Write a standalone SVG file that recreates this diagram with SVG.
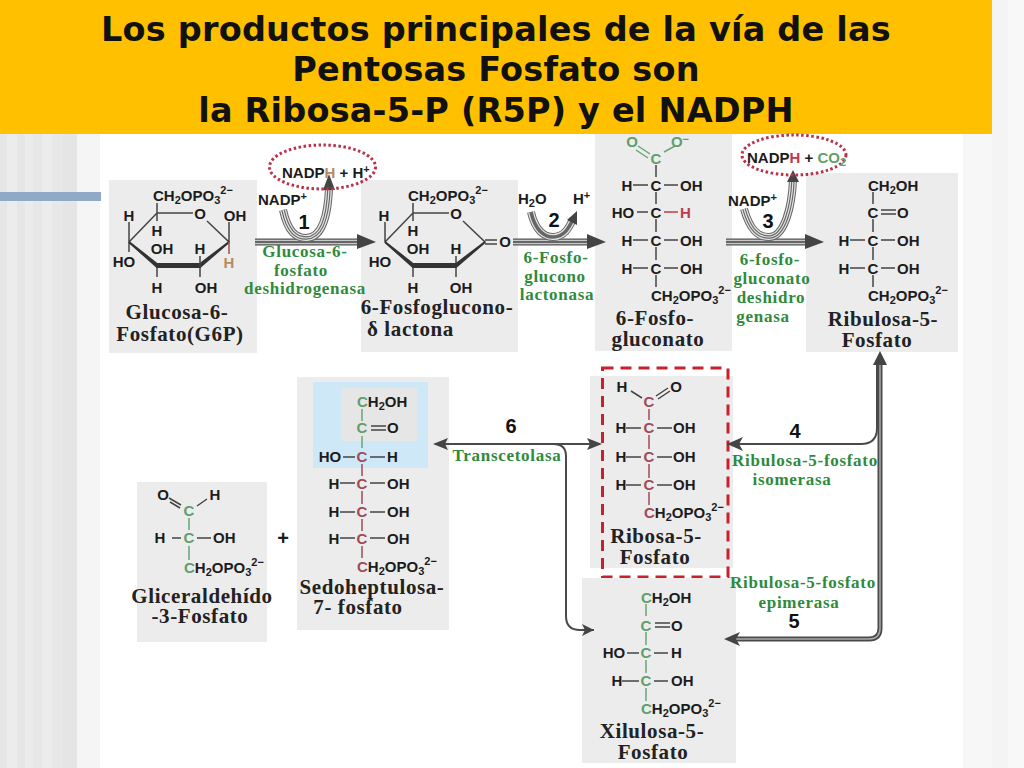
<svg xmlns="http://www.w3.org/2000/svg" width="1024" height="768" viewBox="0 0 1024 768">
<style>
.t{font:bold 33.5px "DejaVu Sans",Verdana,sans-serif;fill:#111;text-anchor:middle;letter-spacing:.2px}
.c{font:bold 15px "Liberation Sans",Arial,sans-serif;fill:#1c1c1c}
.m{text-anchor:middle}
.s{font-size:11px}
.n{font:bold 21px "Liberation Serif","Times New Roman",serif;fill:#222;text-anchor:middle;letter-spacing:.6px}
.e{font:bold 17px "Liberation Serif","Times New Roman",serif;fill:#2f8a3c;text-anchor:middle;letter-spacing:.7px}
.d{font:bold 20px "Liberation Sans",Arial,sans-serif;fill:#111;text-anchor:middle}
.box{fill:#ececec}
.b{stroke:#444;stroke-width:1.5;fill:none}
.g{fill:#5f9f6c}.r{fill:#a04a58}.rb{fill:#c03a4a}.br{fill:#b98a62}
.gb{stroke:#6aa576;stroke-width:1.5;fill:none}
.rl{stroke:#a04a58;stroke-width:1.5;fill:none}
.a1{fill:none;stroke:#555;stroke-width:7}
.a2{fill:none;stroke:#c8c8c8;stroke-width:4.5}
.a3{fill:none;stroke:#666;stroke-width:2}
.u1{fill:none;stroke:#666;stroke-width:8}
.u2{fill:none;stroke:#e4e4e4;stroke-width:6}
.u3{fill:none;stroke:#666;stroke-width:3.5}
.u4{fill:none;stroke:#e4e4e4;stroke-width:1.2}
.l{fill:none;stroke:#4a4a4a;stroke-width:2}
.l2{fill:none;stroke:#4a4a4a;stroke-width:5}
.l3{fill:none;stroke:#aaa;stroke-width:1.5}
.o{fill:none;stroke:#b8324a;stroke-width:3;stroke-dasharray:2.5 2.5}
</style>
<defs>
<marker id="h" markerUnits="userSpaceOnUse" markerWidth="18" markerHeight="14" refX="16" refY="7" orient="auto"><path d="M0 0L16 7L0 14L4 7Z" fill="#444"/></marker>
<marker id="hs" markerUnits="userSpaceOnUse" markerWidth="14" markerHeight="12" refX="12" refY="6" orient="auto"><path d="M0 0L12 6L0 12L3 6Z" fill="#444"/></marker>
</defs>
<g id="background">
<rect width="1024" height="768" fill="#fff"/>
<rect x="0" y="134" width="7" height="634" fill="#e6e6e6"/><rect x="7" y="134" width="10" height="634" fill="#ececec"/><rect x="17" y="134" width="8" height="634" fill="#e6e6e6"/><rect x="25" y="134" width="8" height="634" fill="#ebebeb"/><rect x="33" y="134" width="9" height="634" fill="#e7e7e7"/><rect x="42" y="134" width="10" height="634" fill="#ececec"/><rect x="52" y="134" width="11" height="634" fill="#e8e8e8"/><rect x="63" y="134" width="14" height="634" fill="#e5e5e5"/><rect x="77" y="134" width="23" height="634" fill="#f5f5f5"/>
<rect x="963" y="0" width="61" height="768" fill="#f7f7f7"/><rect x="992" y="0" width="16" height="768" fill="#f4f4f4"/><rect x="1008" y="0" width="16" height="768" fill="#f8f8f8"/>
<rect x="0" y="192" width="101" height="9" fill="#8fa9c6"/>
<rect x="0" y="0" width="992" height="134" fill="#ffc000"/>
</g>
<g id="title">
<text class="t" x="496" y="41">Los productos principales de la vía de las</text>
<text class="t" x="496" y="81">Pentosas Fosfato son</text>
<text class="t" x="496" y="122">la Ribosa-5-P (R5P) y el NADPH</text>
</g>
<g id="node-g6p">
<rect class="box" x="109" y="180" width="148" height="173"/>
<path class="b" d="M157 213L193 213M207 221L229 242L211 257M129 242L157 213M129 242L146 257M157 213V203M129 242V222M229 242V222M157 267V277M200 267V277M129 242L129 252"/>
<path d="M129 242L157 267H200L229 242L200 264H157Z" fill="#333" stroke="#333" stroke-width="2"/>
<path d="M157 213V221M200 267V256" class="b"/>
<path d="M229 242V254" stroke="#a0504a" stroke-width="1.5"/>
<text class="c" x="153" y="201">CH<tspan class="s" dy="3">2</tspan><tspan dy="-3">OPO</tspan><tspan class="s" dy="3">3</tspan><tspan class="s" dy="-10">2−</tspan></text>
<text class="c m" x="200" y="219">O</text><text class="c m" x="235" y="221">OH</text>
<text class="c m" x="129" y="221">H</text><text class="c m" x="157" y="236">H</text>
<text class="c m" x="162" y="254">OH</text><text class="c m" x="200" y="254">H</text>
<text class="c m" x="124" y="267">HO</text><text class="c m br" x="229" y="268">H</text>
<text class="c m" x="157" y="293">H</text><text class="c m" x="206" y="293">OH</text>
<text class="n" x="177" y="319">Glucosa-6-</text><text class="n" x="180" y="341">Fosfato(G6P)</text>
</g>
<g id="node-6pgl">
<rect class="box" x="361" y="180" width="157" height="172"/>
<path class="b" d="M413 213L449 213M463 221L485 242L467 257M385 242L413 213M385 242L402 257M413 213V203M385 242V222M413 267V277M456 267V277M413 213V221M456 267V256M485 240H497M485 244H497"/>
<path d="M385 242L413 267H456L485 242L456 264H413Z" fill="#333" stroke="#333" stroke-width="2"/>
<text class="c" x="408" y="201">CH<tspan class="s" dy="3">2</tspan><tspan dy="-3">OPO</tspan><tspan class="s" dy="3">3</tspan><tspan class="s" dy="-10">2−</tspan></text>
<text class="c m" x="456" y="219">O</text><text class="c m" x="505" y="247">O</text>
<text class="c m" x="384" y="221">H</text><text class="c m" x="413" y="236">H</text>
<text class="c m" x="418" y="254">OH</text><text class="c m" x="456" y="254">H</text>
<text class="c m" x="380" y="267">HO</text>
<text class="c m" x="413" y="293">H</text><text class="c m" x="461" y="293">OH</text>
<text class="n" x="437" y="314">6-Fosfoglucono-</text><text class="n" x="367" y="336" style="text-anchor:start">δ lactona</text>
</g>
<g id="node-6pg">
<rect class="box" x="595" y="134" width="137" height="217"/>
<path class="gb" d="M638 146L650 154M636 150L648 158M664 152L675 146"/>
<path class="b" d="M656 165V177M656 192V204M656 219V232M656 247V260M656 275V287M633 185H648M664 185H678M637 212H648M633 240H648M664 240H678M633 268H648M664 268H678"/>
<path d="M664 212H678" stroke="#c03a4a" stroke-width="1.5"/>
<text class="c m g" x="632" y="147">O</text><text class="c m g" x="680" y="147">O<tspan class="s" dy="-4">−</tspan></text><text class="c m g" x="656" y="164">C</text>
<text class="c m" x="627" y="191">H</text><text class="c m" x="656" y="191">C</text><text class="c" x="680" y="191">OH</text>
<text class="c m" x="623" y="218">HO</text><text class="c m" x="656" y="218">C</text><text class="c rb" x="680" y="218">H</text>
<text class="c m" x="627" y="246">H</text><text class="c m" x="656" y="246">C</text><text class="c" x="680" y="246">OH</text>
<text class="c m" x="627" y="274">H</text><text class="c m" x="656" y="274">C</text><text class="c" x="680" y="274">OH</text>
<text class="c" x="651" y="301">CH<tspan class="s" dy="3">2</tspan><tspan dy="-3">OPO</tspan><tspan class="s" dy="3">3</tspan><tspan class="s" dy="-10">2−</tspan></text>
<text class="n" x="655" y="325">6-Fosfo-</text><text class="n" x="658" y="346">gluconato</text>
</g>
<g id="node-ru5p">
<rect class="box" x="806" y="173" width="152" height="179"/>
<path class="b" d="M873 192V204M873 219V232M873 247V260M873 275V287M881 210H896M881 214H896M850 240H865M881 240H895M850 268H865M881 268H895"/>
<text class="c" x="868" y="191">CH<tspan class="s" dy="3">2</tspan><tspan dy="-3">OH</tspan></text>
<text class="c m" x="873" y="218">C</text><text class="c" x="897" y="218">O</text>
<text class="c m" x="844" y="246">H</text><text class="c m" x="873" y="246">C</text><text class="c" x="897" y="246">OH</text>
<text class="c m" x="844" y="274">H</text><text class="c m" x="873" y="274">C</text><text class="c" x="897" y="274">OH</text>
<text class="c" x="868" y="301">CH<tspan class="s" dy="3">2</tspan><tspan dy="-3">OPO</tspan><tspan class="s" dy="3">3</tspan><tspan class="s" dy="-10">2−</tspan></text>
<text class="n" x="883" y="326">Ribulosa-5-</text><text class="n" x="877" y="347">Fosfato</text>
</g>
<g id="node-r5p">
<rect class="box" x="590" y="376" width="143" height="192"/>
<path class="b" d="M631 391L642 398M656 396L668 388M658 399L670 391"/>
<path class="rl" d="M649 409V420M649 435V449M649 464V478M649 492V505"/>
<path class="b" d="M626 428H641M657 428H672M626 457H641M657 457H672M626 485H641M657 485H672"/>
<text class="c m" x="622" y="392">H</text><text class="c m" x="676" y="392">O</text><text class="c m r" x="649" y="407">C</text>
<text class="c m" x="621" y="433">H</text><text class="c m r" x="649" y="433">C</text><text class="c" x="673" y="433">OH</text>
<text class="c m" x="621" y="462">H</text><text class="c m r" x="649" y="462">C</text><text class="c" x="673" y="462">OH</text>
<text class="c m" x="621" y="490">H</text><text class="c m r" x="649" y="490">C</text><text class="c" x="673" y="490">OH</text>
<text class="c" x="644" y="518"><tspan class="r">C</tspan>H<tspan class="s" dy="3">2</tspan><tspan dy="-3">OPO</tspan><tspan class="s" dy="3">3</tspan><tspan class="s" dy="-10">2−</tspan></text>
<text class="n" x="656" y="543">Ribosa-5-</text><text class="n" x="655" y="564">Fosfato</text>
</g>
<rect id="r5p-highlight" x="602.5" y="368" width="125.5" height="209" fill="none" stroke="#c8202f" stroke-width="3" stroke-dasharray="11 7"/>
<g id="node-xu5p">
<rect class="box" x="582" y="578" width="154" height="185"/>
<path class="gb" d="M646 604V616M646 632V645M646 660V673M646 688V701"/>
<path class="b" d="M655 623H670M655 627H670M627 653H639M654 653H668M622 681H639M654 681H668"/>
<text class="c" x="641" y="603"><tspan class="g">C</tspan>H<tspan class="s" dy="3">2</tspan><tspan dy="-3">OH</tspan></text>
<text class="c m g" x="646" y="631">C</text><text class="c" x="671" y="631">O</text>
<text class="c m" x="614" y="658">HO</text><text class="c m g" x="646" y="658">C</text><text class="c" x="671" y="658">H</text>
<text class="c m" x="617" y="686">H</text><text class="c m g" x="646" y="686">C</text><text class="c" x="671" y="686">OH</text>
<text class="c" x="641" y="714"><tspan class="g">C</tspan>H<tspan class="s" dy="3">2</tspan><tspan dy="-3">OPO</tspan><tspan class="s" dy="3">3</tspan><tspan class="s" dy="-10">2−</tspan></text>
<text class="n" x="652" y="738">Xilulosa-5-</text><text class="n" x="653" y="759">Fosfato</text>
</g>
<g id="node-s7p">
<rect class="box" x="297" y="377" width="152" height="253"/>
<rect x="313" y="382" width="115" height="86" fill="#cfe8f8"/>
<rect x="341" y="388" width="76" height="53" fill="#e6e6e6"/>
<path class="gb" d="M362 409V421"/>
<path class="b" d="M371 426H386M371 430H386"/>
<path class="gb" d="M362 436V448"/>
<path class="rl" d="M362 464V476M362 491V504M362 519V531M362 546V558"/>
<path class="b" d="M343 457H355M370 457H385M340 483H355M370 483H385M340 512H355M370 512H385M340 538H355M370 538H385"/>
<text class="c" x="357" y="407"><tspan class="g">C</tspan>H<tspan class="s" dy="3">2</tspan><tspan dy="-3">OH</tspan></text>
<text class="c m g" x="362" y="433">C</text><text class="c" x="387" y="433">O</text>
<text class="c m" x="330" y="462">HO</text><text class="c m r" x="362" y="462">C</text><text class="c" x="387" y="462">H</text>
<text class="c m" x="334" y="489">H</text><text class="c m r" x="362" y="489">C</text><text class="c" x="387" y="489">OH</text>
<text class="c m" x="334" y="517">H</text><text class="c m r" x="362" y="517">C</text><text class="c" x="387" y="517">OH</text>
<text class="c m" x="334" y="544">H</text><text class="c m r" x="362" y="544">C</text><text class="c" x="387" y="544">OH</text>
<text class="c" x="357" y="572"><tspan class="r">C</tspan>H<tspan class="s" dy="3">2</tspan><tspan dy="-3">OPO</tspan><tspan class="s" dy="3">3</tspan><tspan class="s" dy="-10">2−</tspan></text>
<text class="n" x="372" y="594">Sedoheptulosa-</text><text class="n" x="358" y="614">7- fosfato</text>
</g>
<g id="node-gap">
<rect class="box" x="137" y="482" width="130" height="160"/>
<path class="b" d="M169 498L181 505M170 502L180 508M197 506L207 499M172 538H181M197 538H211"/>
<path class="gb" d="M189 518V530M189 546V560"/>
<text class="c m" x="163" y="500">O</text><text class="c m" x="215" y="500">H</text><text class="c m g" x="189" y="516">C</text>
<text class="c m" x="160" y="543">H</text><text class="c m g" x="189" y="543">C</text><text class="c" x="213" y="543">OH</text>
<text class="c" x="184" y="573"><tspan class="g">C</tspan>H<tspan class="s" dy="3">2</tspan><tspan dy="-3">OPO</tspan><tspan class="s" dy="3">3</tspan><tspan class="s" dy="-10">2−</tspan></text>
<text class="n" x="202" y="603">Gliceraldehído</text><text class="n" x="200" y="623">-3-Fosfato</text>
</g>
<text class="c m" x="283" y="545" style="font-size:20px">+</text>
<g id="connectors">
<g id="arrow-1"><path class="a1" d="M255 242H360" /><path class="a2" d="M255 242H360"/><path class="a3" d="M255 242H360"/><path d="M357 234L376 242L357 249Z" fill="#444"/>
<path class="u1" d="M283 210C288 232 296 238 306 238C322 238 328 215 329 188"/><path class="u2" d="M283 210C288 232 296 238 306 238C322 238 328 215 329 188"/><path class="u3" d="M283 210C288 232 296 238 306 238C322 238 328 215 329 188"/><path class="u4" d="M283 210C288 232 296 238 306 238C322 238 328 215 329 188"/><path d="M323 190L329 174L335 190Z" fill="#444"/></g>
<g id="arrow-2"><path class="a1" d="M513 242H590"/><path class="a2" d="M513 242H590"/><path class="a3" d="M513 242H590"/><path d="M587 234L606 242L587 249Z" fill="#444"/>
<path class="u1" d="M531 212C535 230 544 237 553 237C564 237 569 228 573 219"/><path class="u2" d="M531 212C535 230 544 237 553 237C564 237 569 228 573 219"/><path class="u3" d="M531 212C535 230 544 237 553 237C564 237 569 228 573 219"/><path d="M567 220L577 211L577 225Z" fill="#444"/></g>
<g id="arrow-3"><path class="a1" d="M726 242H808"/><path class="a2" d="M726 242H808"/><path class="a3" d="M726 242H808"/><path d="M805 234L824 242L805 249Z" fill="#444"/>
<path class="u1" d="M744 209C750 230 758 237 769 237C785 237 792 205 793 180"/><path class="u2" d="M744 209C750 230 758 237 769 237C785 237 792 205 793 180"/><path class="u3" d="M744 209C750 230 758 237 769 237C785 237 792 205 793 180"/><path class="u4" d="M744 209C750 230 758 237 769 237C785 237 792 205 793 180"/><path d="M787 182L793 170L799 182Z" fill="#444"/></g>
<g id="arrow-4-5"><path class="l" d="M877 362V428Q877 444 861 444H727" marker-end="url(#h)"/>
<path class="l2" d="M880 362V628Q880 639 869 639H736"/><path class="l3" d="M880 362V628Q880 639 869 639H736"/>
<path d="M740 632L724 639L740 646L736 639Z" fill="#444"/>
<path d="M873 365L880 351L887 365Z" fill="#444"/></g>
<g id="arrow-6"><path class="l" d="M600 444H435"/><path d="M448 438L433 444L448 450L445 444Z" fill="#444"/><path d="M587 438L602 444L587 450L590 444Z" fill="#444"/>
<path class="l" d="M553 444Q566 444 566 456V616Q566 630 580 630H594" marker-end="url(#hs)"/></g>
</g>
<g id="labels">
<ellipse class="o" cx="322.5" cy="167" rx="53" ry="22"/>
<text class="c" x="282" y="178">NADP<tspan class="br">H</tspan> + H<tspan class="s" dy="-5">+</tspan></text>
<text class="c" x="258" y="205">NADP<tspan class="s" dy="-5">+</tspan></text>
<text class="d" x="304" y="229">1</text>
<text class="e" x="305" y="257">Glucosa-6-</text><text class="e" x="301" y="276">fosfato</text><text class="e" x="305" y="294">deshidrogenasa</text>
<text class="c" x="518" y="204">H<tspan class="s" dy="3">2</tspan><tspan dy="-3">O</tspan></text>
<text class="c" x="573" y="204">H<tspan class="s" dy="-5">+</tspan></text>
<text class="d" x="554" y="227">2</text>
<text class="e" x="556" y="263">6-Fosfo-</text><text class="e" x="555" y="282">glucono</text><text class="e" x="557" y="300">lactonasa</text>
<ellipse class="o" cx="794" cy="155" rx="52" ry="20"/>
<text class="c" x="747" y="163">NADP<tspan class="rb">H</tspan> + <tspan class="g">CO</tspan><tspan class="s g" dy="3">2</tspan></text>
<text class="c" x="728" y="206">NADP<tspan class="s" dy="-5">+</tspan></text>
<text class="d" x="768" y="228">3</text>
<text class="e" x="770" y="265">6-fosfo-</text><text class="e" x="772" y="284">gluconato</text><text class="e" x="771" y="303">deshidro</text><text class="e" x="763" y="322">genasa</text>
<text class="d" x="795" y="438">4</text>
<text class="e" x="805" y="466">Ribulosa-5-fosfato</text><text class="e" x="792" y="485">isomerasa</text>
<text class="e" x="803" y="588">Ribulosa-5-fosfato</text><text class="e" x="799" y="608">epimerasa</text>
<text class="d" x="794" y="628">5</text>
<text class="d" x="511" y="433">6</text>
<text class="e" x="507" y="461">Transcetolasa</text>
</g>
</svg>
